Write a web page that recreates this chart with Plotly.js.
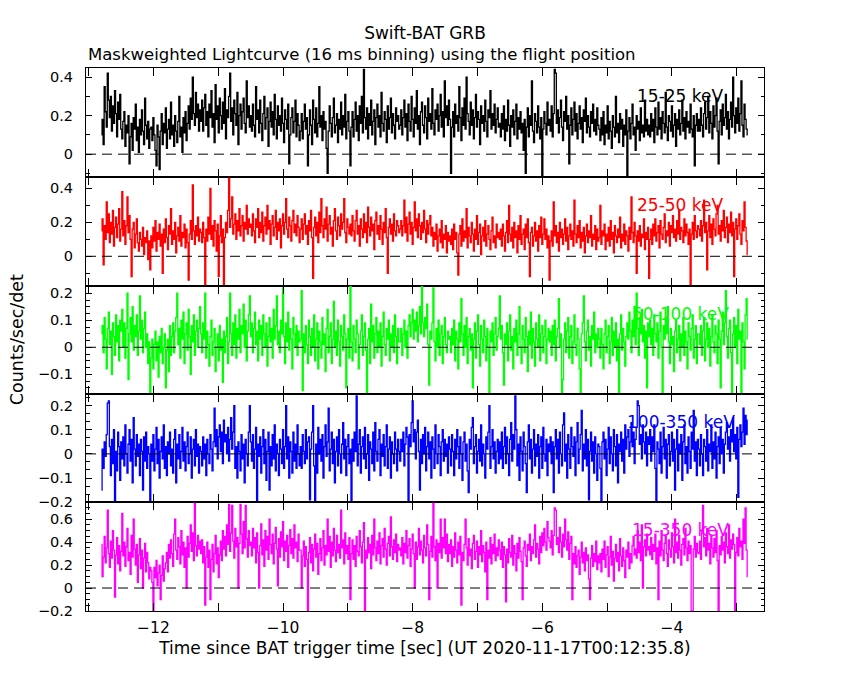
<!DOCTYPE html>
<html>
<head>
<meta charset="utf-8">
<script src="https://cdn.plot.ly/plotly-3.0.1.min.js"></script>
<style>html,body{margin:0;padding:0;background:#fff;}#chart{width:850px;height:680px;}</style>
</head>
<body>
<div id="chart"></div>
<script>
// Swift-BAT mask-weighted light curve, 16 ms bins (counts/sec/det)
const binStart = -12.8;   // first bin time [s]
const binWidth = 0.016;   // 16 ms binning

const bandLabels = ["15-25 keV", "25-50 keV", "50-100 keV", "100-350 keV", "15-350 keV"];
const bandColors = ["#000000", "#ff0000", "#00ff00", "#0000ff", "#ff00ff"];

const rate15_25 = [
.10,.18,.05,.35,.22,.14,.42,.28,.19,.30,.12,.25,.16,.33,.21,.09,.27,.18,.31,.13,
.08,.17,.22,.04,.15,.11,.20,-.05,.09,.16,.02,.19,.13,.26,.07,.14,.01,.18,.10,.23,.12,.05,.29,.15,.08,.17,.03,.13,
.14,.07,.19,.10,.02,-.06,.15,.09,-.08,.12,.21,.05,.16,.11,.24,.03,.13,.18,.08,.27,
.10,.15,.04,.20,.12,.06,.17,.30,.09,.14,.01,.19,.11,.22,.07,.16,.25,.13,.29,.18,
.40,.21,.15,.32,.19,.26,.12,.23,
.17,.28,.12,.24,.31,.15,.22,.09,.26,.19,.33,.14,.21,.06,.36,.18,.25,.11,.29,.20,
.13,.27,.16,.34,.08,.23,.19,.30,.42,.17,.24,.10,.28,.21,.15,.32,.05,.20,.26,.13,
.22,.29,.16,.11,.38,.19,.25,.14,
.20,.12,.26,.15,.09,.35,.18,.23,.11,.28,.16,.07,.21,.30,.13,.19,.24,.04,.17,.27,
.14,.22,.10,.31,.18,.08,.25,.15,.20,.12,.29,.16,.06,.23,.18,.13,.26,-.05,.10,.19,
.24,.11,.17,.28,.09,.21,.15,.07,
.12,.21,.08,.17,.26,.13,.19,-.06,.10,.23,.15,.05,.28,.18,.11,.24,.09,.16,.35,.14,
.20,.07,.22,.13,.17,.03,-.10,.12,.25,.16,.09,.19,.29,.11,.15,.21,.06,.18,.13,.27,
.10,.20,.14,.31,.08,.17,.22,.12,
-.06,.14,.22,.09,.18,.27,.12,.20,.07,.25,.16,.30,.11,.44,.19,.13,.24,.08,.21,.15,
.28,.10,.17,.23,.05,.19,.26,.14,.20,.09,.32,.16,.12,.22,.18,.06,.25,.13,.19,.29,
.11,.21,.15,.08,.24,.17,.20,.13,
.15,.23,.10,.19,.28,.14,.21,.07,.26,.17,.12,.30,.18,.09,.24,.16,.33,.13,.20,.05,
.22,.27,.15,.11,.25,.19,.08,.29,.17,.21,.13,.34,.16,.10,.23,.18,.26,.12,.20,.31,
.14,.22,.09,.38,.19,.25,.15,.28,
.18,-.10,.14,.22,.09,.26,.16,.20,.12,.35,.19,.07,.24,.15,.29,.13,.40,.21,.17,.10,
.27,.15,.23,.08,.19,.31,.14,.22,.18,.05,.25,.16,.20,.12,.28,.17,.09,.23,.19,.33,
.13,.21,.15,.26,.11,.18,.24,.14,
.16,.09,.21,.13,.25,.07,.18,.12,.28,.15,.04,.20,.14,.23,.10,.17,.26,.08,.19,.13,
.22,.11,.16,.02,.18,-.10,.14,.24,.09,.20,.15,.38,.12,.06,.21,.17,.11,.25,.14,.08,
.19,-.12,.13,.22,.16,.10,.27,.15,
.18,.12,.25,.09,.21,.44,.42,.16,.23,.11,.19,.28,.14,.07,.22,.17,.30,.13,.20,-.05,
.15,.24,.10,.18,.27,.12,.21,.08,.16,.25,.13,.19,.06,.23,.17,.29,.11,.20,.14,.09,
.22,.16,.26,.12,.18,.10,.24,.15,
.13,.07,.19,.10,.22,.05,.15,.11,.25,.08,.17,.12,.03,.20,.14,.09,.30,.11,.16,.06,
.21,.13,.18,.04,.15,.10,.23,-.12,.12,.19,.08,.16,.26,.10,.14,.02,.20,.13,.17,.07,
.24,.11,.15,.09,.28,.12,.18,.10,
.15,.09,.21,.12,.18,.06,.24,.14,.10,.27,.13,.19,.08,.22,.16,.11,.32,.14,.07,.20,
.17,.12,.25,.09,.15,.21,.04,.18,.13,.23,.10,.16,.28,.12,.19,.08,.22,.14,.17,.11,
.26,.13,.09,.20,-.06,.15,.21,.12,
.18,.12,.24,.15,.09,.21,.27,.13,.19,.30,.11,.22,.16,.08,.25,.14,.20,.29,.12,-.05,
.17,.23,.10,.26,.15,.19,.31,.13,.22,.08,.18,.27,.14,.40,.20,.11,.24,.16,.29,.12,
.21,.38,.15,.09,.26,.18,.13,.10
];

const rate25_50 = [
.15,.22,-.05,.18,.10,.32,.14,.25,.08,.20,.13,.27,.06,.17,.23,.11,.19,.28,.09,.16,
.38,.12,.21,.07,.18,.35,.14,.24,.10,-.12,.16,.20,.05,.13,.22,.08,.03,.14,.10,.06,
.17,.01,.11,.08,.15,-.02,.09,-.08,
.12,.05,.17,.09,.21,.03,.14,.10,.19,.06,.13,-.10,.16,.08,.22,.11,.04,.18,.13,.28,
.07,.15,.10,.20,.02,.12,.17,.09,.24,.06,.14,.11,.19,.05,.16,.08,-.14,.13,.21,.10,
.42,.15,.07,.18,.12,.23,.09,.16,
.14,.08,.20,.11,-.17,.16,.09,.23,.13,.40,.10,.18,.06,.21,.15,.03,.19,-.12,.12,.24,
.08,.16,-.17,.11,.20,.14,.27,.46,.17,.22,.35,.13,.19,.25,.10,.21,.15,.28,.12,.18,
.24,.09,.20,.16,.30,.13,.22,.17,
.19,.12,.25,.15,.08,.22,.17,.28,.11,.20,.14,.26,.09,.18,.23,.13,.30,.16,.21,.07,
.19,.24,.12,.17,.27,.10,.20,.15,.22,.05,.18,.25,.13,.20,.34,.16,.11,.23,.18,.09,
.21,.27,.14,.19,.12,.24,.17,.08,
.16,.22,.10,.19,.25,.13,.18,.07,.21,.15,.27,.11,-.13,.17,.23,.12,.20,.08,.26,.14,
.34,.18,.11,.22,.16,.29,.09,.19,.24,.13,.17,.06,.21,.28,.15,.10,.23,.18,.12,.25,
.16,.20,.34,.14,.08,.22,.17,.13,
.19,.12,.24,.15,.09,.21,.27,.13,.18,.06,.22,.16,.11,.25,.14,.20,.08,.29,.17,.12,
.23,.15,.19,.04,.21,.26,.13,.18,.10,.24,.16,.07,.20,.14,.28,.11,-.10,.17,.22,.13,
.19,.09,.25,.15,.12,.21,.18,.14,
.16,.21,.12,.18,.33,.14,.23,.09,.19,.26,.13,.20,.07,.17,.32,.15,.22,.11,.25,.18,
.10,.20,.14,.27,.16,.08,.21,.13,.19,.24,.12,.17,.06,.14,.10,.19,.03,.12,.16,.08,
.21,.05,.13,.10,.18,.02,.14,.09,
.12,.07,.16,.04,.19,.10,.14,.02,-.11,.13,.18,.06,.22,.09,.15,.11,.28,.05,.17,.12,
.08,.20,.13,.03,.16,.10,.24,.07,.14,.19,.01,.12,.17,.09,.21,.06,.13,.18,.10,.04,
.15,.23,.08,.12,.05,.19,.11,.14,
.10,.16,.06,.19,.12,.03,.14,.21,.08,.30,.13,.09,.17,.05,.20,.11,.15,.02,.18,.10,
.24,.07,.13,.16,.04,.19,.11,.22,.08,-.12,.14,.17,.06,.12,.20,.09,.15,.03,.18,.11,
.23,.07,.13,.22,.10,.16,.05,.12,
-.14,.09,.15,.06,.32,.12,.18,.08,.14,.03,.20,.11,.16,.07,.13,.22,.09,.17,.04,.12,
.19,.10,.15,.06,.33,.13,.08,.18,.11,.21,.05,.14,.09,.17,.02,.12,.19,.08,.15,.11,
.24,.06,.13,.10,.18,.04,.16,.09,
.11,.30,.07,.15,.12,.19,.04,.13,.09,.17,.06,.21,.10,.14,.02,.18,.12,.08,.16,.11,
.23,.05,.13,.09,.19,.07,.15,.12,.03,.17,.10,.35,.14,.08,.20,.12,-.10,.15,.09,.18,
.06,.13,.11,.22,.04,.14,.10,.17,
-.13,.10,.16,.07,.19,.12,.22,.09,.14,.18,.05,.21,.13,.10,.17,.25,.08,.15,.12,.20,
.06,.18,.14,.24,.11,.16,.09,.21,.13,.27,.10,.17,.15,.08,.22,.12,.19,.14,.07,.16,
-.17,.13,.20,.10,.24,.15,.11,.18,
.16,.12,.21,.09,.18,.33,.14,.20,-.08,.15,.24,.11,.19,.07,.22,.16,.12,.25,.30,.13,
.18,.09,.21,.15,.27,.11,.17,.23,.08,.19,.14,.26,.12,.20,-.12,.16,.22,.10,.18,.25,
.13,.07,.21,.15,.32,.17,.09,.01
];

const rate50_100 = [
.05,.08,-.02,.11,.03,-.08,.07,.13,.01,.06,-.10,.09,.04,-.03,.12,.02,.08,-.05,.10,.06,
.14,.00,.09,-.04,.07,.20,-.12,.05,.11,.02,.15,-.01,.08,.04,.12,-.03,.06,.19,.03,.10,
-.02,.07,.13,.00,.05,-.06,.02,-.17,
-.04,.03,-.08,.01,.06,-.05,.02,-.11,.04,-.02,.07,-.06,.00,.05,-.15,-.01,.03,-.09,.08,-.03,
.04,.09,-.02,.06,.11,.20,.01,.07,-.04,.10,.03,.13,-.06,.05,.09,-.01,.14,.04,-.10,.08,
.02,.12,-.03,.06,.10,.00,.07,.15,
.05,-.02,.09,.03,.20,-.04,.06,.01,-.07,.04,.10,-.03,.02,.07,-.09,.00,.05,-.05,.08,-.01,
.03,-.13,.06,-.02,.04,.11,-.06,.02,.20,.05,-.03,.09,.01,.12,-.04,.07,.03,.14,-.02,.08,
.05,.16,.00,.10,-.05,.06,.12,.19,
.04,.09,-.02,.07,.13,.01,.06,-.05,.10,.03,.08,-.03,.12,.05,.00,.09,-.07,.04,.11,.02,
.07,-.04,.14,.03,.08,.19,.01,.06,-.02,.10,.05,.22,.04,-.06,.09,.02,.13,-.01,.07,.03,
-.08,.11,.05,.00,.08,-.03,.06,.02,
.03,.21,-.16,.05,-.02,.08,.01,-.06,.10,.04,-.03,.07,.00,.12,-.05,.03,.09,-.08,.06,.02,
-.04,.11,.01,.05,-.09,.07,.14,-.02,.04,.09,-.06,.03,.17,.00,.06,-.03,.10,.02,-.07,.08,
.04,-.01,.12,.05,-.15,.03,.07,-.04,
.23,.02,-.05,.08,.03,-.02,.10,.05,-.08,.01,.06,.12,-.03,.04,.09,-.01,-.17,.03,.07,-.06,
.16,.02,.08,-.04,.05,.11,-.02,.06,.00,.09,-.07,.04,.13,.01,-.03,.07,.03,.10,-.05,.05,
.00,.08,-.02,.12,.04,-.06,.07,.02,
.02,.07,-.03,.05,.10,.00,.06,-.04,.08,.12,.04,.09,.14,.03,.10,.06,.13,.02,.08,.15,
.05,.23,.09,.04,.11,.07,.16,.01,-.14,.06,.03,.09,.22,.02,-.05,.07,.00,.10,-.03,.05,
.08,-.06,.04,.11,.01,-.02,.06,.03,
.04,-.02,.07,.01,.10,-.05,.06,.03,-.08,.09,.02,.18,.05,-.03,.08,.00,.11,-.06,.04,.07,
-.01,.05,-.15,.03,.09,-.04,.06,.12,.01,-.07,.08,.03,-.02,.10,.04,-.05,.07,.00,-.17,.06,
.02,.09,-.03,.05,.11,-.01,.04,.07,
.19,.03,.08,-.02,-.14,.05,.01,.09,-.05,.06,.12,-.01,.04,-.08,.07,.02,.10,-.03,.05,.15,
.00,-.06,.08,.03,-.02,.11,.04,-.09,.06,.01,.13,-.04,.07,.02,-.07,.09,.03,.00,.12,-.05,
.05,.08,-.02,.04,.10,-.06,.03,.07,
.02,.06,-.03,.08,.01,.10,-.05,.04,.07,.18,.00,.05,-.17,-.12,.03,.09,-.02,.06,.11,-.04,
.04,.08,-.06,.02,.12,.01,-.03,.07,.03,-.08,-.17,.05,.09,.19,.02,-.05,.06,.10,-.01,.04,
-.07,.08,.03,.13,-.02,.05,.00,.07,
.03,-.04,.07,.01,-.08,.05,.10,-.02,.04,.08,-.06,.02,.11,-.03,.06,.00,.09,-.05,.03,-.17,
.05,.12,-.01,.07,.02,-.07,.04,.09,.03,.13,.06,-.02,.10,.04,.15,.01,.20,.07,-.03,.11,
.05,.14,.02,.08,-.04,.06,-.15,.09,
.04,.10,.01,.07,-.03,.12,.05,.02,.09,-.04,.06,.13,.00,-.17,.08,.03,.11,.05,.15,.02,
-.06,.07,.01,.04,-.09,.06,.10,-.02,.03,.08,-.05,.05,.00,.11,-.03,.06,.02,-.08,.09,.04,
-.01,.07,.12,-.04,.03,.08,-.06,.05,
.05,.01,.08,-.03,.06,.11,-.05,.03,.09,.00,.07,-.07,.04,.12,.02,-.02,.08,.05,-.06,.10,
.03,-.15,.06,.13,.01,.09,.21,.04,-.04,.07,.10,-.02,-.17,.05,.11,.00,.08,-.06,.14,.03,
.06,-.17,.09,.02,-.08,.12,.18,.03
];

const rate100_350 = [
-.15,.02,-.06,.05,-.01,.08,.21,.22,.03,-.09,.06,-.04,.10,-.20,.01,-.07,.09,.03,-.11,.05,
-.02,.07,-.05,.12,.00,-.08,.04,.10,-.03,.06,-.12,.15,.02,-.05,.08,-.01,.04,-.09,.06,.01,
-.15,.07,-.03,.09,-.06,.03,.00,-.20,
.04,-.03,.08,-.07,.02,.11,-.04,.06,-.10,.01,.07,-.02,.12,-.06,.03,-.09,.05,.00,.09,-.05,
.02,-.08,.06,.10,-.12,.04,-.02,.08,-.06,.01,.11,-.03,.05,-.07,.03,.09,-.04,.00,.07,-.10,
.02,.06,-.05,.10,-.01,.04,-.08,.03,
.01,-.05,.07,-.02,.04,-.09,.06,.00,-.04,.08,.02,-.07,.05,.19,.03,.10,-.02,.07,.12,.01,
.09,-.04,.14,.05,.08,.00,.11,-.03,.06,.15,.02,.09,.20,-.06,.03,-.10,.05,.01,-.07,.08,
-.02,.04,-.12,.06,.00,-.05,.09,.20,
.05,-.03,.08,-.06,.02,.11,-.20,.04,-.01,.07,-.08,.03,.10,-.04,.06,-.11,.01,.09,-.15,.03,
-.05,.08,-.02,.12,-.07,.04,.00,-.09,.06,.02,-.04,.10,-.06,.03,.20,-.02,.07,-.10,.05,.01,
-.08,.09,-.03,.04,-.06,.12,.00,-.05,
.03,-.06,.08,.01,-.04,.10,-.02,.05,.07,-.19,.02,.09,.20,-.05,-.20,.04,-.08,.11,.00,.06,
-.03,.08,-.10,.03,.12,-.01,.05,.19,-.07,.02,.09,-.04,.06,-.12,.01,.07,-.05,.10,.00,-.08,
.04,.13,-.02,.06,-.09,.03,.08,-.04,
.02,-.20,.06,-.03,.09,.01,.24,-.05,.04,.10,-.08,.03,.07,-.02,.11,-.06,.00,.08,-.11,.05,
.02,-.04,.09,-.07,.13,.01,-.03,.06,.10,-.09,.04,-.01,.08,-.05,.03,.12,-.06,.02,.07,-.10,
.05,.00,-.04,.09,.02,-.07,.06,.01,
-.03,.06,.01,.09,-.05,.04,.11,.07,-.20,.08,.03,.13,.22,.05,.10,-.02,.09,.14,.01,-.15,
.06,-.04,.08,.00,.11,-.07,.03,.09,-.02,.05,-.10,.07,.02,-.06,.12,.00,-.04,.08,.03,-.09,
.05,.10,-.03,.06,-.01,.04,-.08,.07,
.02,-.05,.08,.01,-.09,.06,-.02,.10,.03,-.06,.07,.00,-.11,.05,.09,-.03,.04,-.07,-.16,.06,
.02,.11,.15,-.04,.03,.08,-.08,.01,.06,-.03,.12,-.05,.04,.00,-.10,.07,.02,.09,.20,-.06,
.03,.10,-.02,.05,-.08,.01,.06,-.04,
.05,-.02,.09,-.06,.03,.11,-.04,.07,.00,-.09,.06,.13,-.03,.08,.02,.24,.10,-.05,.04,-.11,
.07,.01,-.07,.09,.03,-.04,-.16,.05,.12,-.02,.06,-.08,.02,.10,-.05,.04,-.01,.08,-.10,.03,
.07,-.06,.11,.00,-.03,.06,-.09,.04,
.01,.07,-.04,.05,-.16,.03,.10,-.02,.06,-.08,.09,.00,-.05,.12,.17,-.03,.04,-.10,.08,.02,
-.06,.11,.03,-.01,.07,-.09,.05,.13,-.04,.02,.08,.18,-.07,.04,-.02,.10,-.05,.06,-.19,.01,
.09,-.03,.05,-.08,.07,.00,-.11,.04,
.03,-.06,-.20,.05,.09,-.02,.06,-.09,.02,.11,-.04,.07,.00,-.07,.10,.03,-.05,.08,-.12,.04,
.01,.09,-.03,.06,-.08,.12,.02,.07,.10,-.01,.05,.13,.03,.09,-.04,.06,.11,.22,.20,.04,
.08,-.02,.12,.05,.00,.09,-.05,.07,
.04,.10,-.03,.07,.01,.12,-.06,-.20,.05,.02,-.04,.09,-.08,.03,.11,-.02,.06,-.10,.04,.08,
-.05,.01,.09,-.03,.06,-.15,.02,.10,-.07,.04,.00,.08,-.11,.05,.12,-.04,.03,-.08,.07,.01,
-.06,.09,.02,.18,-.03,.05,-.09,.06,
.02,-.05,.08,.00,-.09,.06,.03,-.03,.10,-.07,.04,.01,.12,-.06,.05,-.02,.09,-.10,.03,.07,
-.04,.11,.00,.06,-.08,.04,.09,.13,.02,.07,-.03,.10,.05,.15,.01,.08,-.02,.11,-.18,.06,
.12,.03,.09,.19,.04,.16,.08,.14
];

const rate15_350 = [
.38,.10,.27,.45,.22,.35,.68,.30,.18,.41,.26,.50,.33,-.08,.29,.44,.21,.37,.15,.32,
.65,.28,.40,.19,.36,.52,.24,.31,.12,.46,.27,.60,.34,.20,.38,.05,.29,.43,.17,.33,
.00,.26,.39,.14,.31,.22,.08,.18,
.15,.05,-.20,.18,.09,.24,.02,.13,.20,-.10,.11,.28,.06,.17,.22,.31,.14,.38,.26,.42,
.30,.19,.47,.60,.33,.25,.44,.36,.21,.50,.29,.40,.18,.35,.00,.45,.27,.39,.55,.32,
.48,.24,.74,.37,.28,.46,.34,.41,
.30,.42,.22,.36,-.15,.27,.40,.18,.33,-.10,.25,.38,.14,.30,.46,.21,.35,.09,.29,.41,
.24,.50,.34,.45,.28,.55,.38,.73,.32,.48,.72,.41,.26,.52,.36,.44,.00,.39,.73,.47,
.30,.58,.35,.72,.43,.27,.50,.37,
.40,.28,.52,.35,.44,.22,.48,.31,.00,.37,.56,.29,.42,.19,.50,.33,.45,.25,.60,.38,
.30,.47,.21,.39,.53,.34,.02,.43,.27,.49,.36,.58,.24,.41,.32,.46,.18,.37,.51,.30,
.43,.26,.55,.35,.40,.23,.47,.33,
.33,.00,.28,.41,.19,.36,.25,-.20,.31,.44,.22,.38,.15,.34,.47,.27,.39,.12,.30,.43,
.24,.35,.50,.20,.37,.29,.60,.32,.45,.18,.40,.28,.52,.33,.23,.46,.31,.38,.26,.68,
.35,.42,.21,.48,.30,.37,.25,.44,
-.10,.30,.42,.25,.37,.19,.45,.32,.28,.50,.36,.22,.40,.57,-.20,.33,.26,.44,.31,.38,
.17,.46,.29,.60,.35,.24,.41,.30,.48,.21,.37,.43,.27,.52,.34,.20,.39,.45,.28,.62,
.36,.25,.42,.31,.47,.23,.38,.33,
.35,.28,.44,.21,.39,.31,.50,.26,.37,.43,.19,.34,.47,.30,.00,.40,.25,.36,.52,.29,
.41,.33,.22,.46,.35,.28,.55,.38,-.10,.32,.45,.27,.74,.36,.24,.42,.00,.39,.31,.60,
.26,.44,.35,.60,.30,.47,.23,.38,
.30,.42,.19,.36,.27,.48,.33,.22,.40,.29,.45,-.15,.31,.24,.38,.60,.35,.20,.43,.28,
.34,.17,.39,.46,.25,.32,.41,.18,.36,.29,.50,.23,.37,.31,.14,.40,-.10,.33,.26,.44,
.21,.38,.30,.47,.24,.35,.28,.42,
.33,.25,.40,.18,.36,.29,-.12,.34,.22,.43,.31,.27,.46,.20,.37,.30,.15,.39,.26,.44,
.32,.23,-.10,.35,.41,.28,.19,.38,.33,.47,.24,.36,.30,.42,.55,.27,.39,.34,.21,.45,
.31,.48,.37,.52,.40,.33,.58,.44,
.41,.35,.50,.29,.46,.70,.68,.38,.44,.31,.53,.40,.27,.47,.36,.60,.42,.33,.49,.25,
.39,.45,-.10,.30,.21,.36,.18,.28,.33,.12,.27,.40,.22,.31,.15,.35,.24,.29,.08,-.10,
.26,.37,.19,.30,.23,.41,.16,.28,
.22,.30,.14,.34,.25,.41,.18,.29,.36,.10,.27,.45,.20,.32,.06,.26,.38,.23,.31,.15,
.43,.28,.19,.35,.24,.09,.33,.27,.40,.17,.30,.22,.37,.45,.29,.34,.26,.50,.31,.40,
.24,.55,.00,.36,.42,.28,.47,.33,
.36,.29,.44,.25,.38,.32,.47,.21,.35,-.10,.41,.28,.50,.33,.24,.39,.45,.30,.19,.42,
.34,.27,.48,.36,.22,.60,.31,.40,.26,.46,.33,.20,.38,.43,.29,.52,.35,.24,.41,.30,
.37,-.20,-.20,.34,.45,.27,.39,.31,
.30,.41,.25,.48,.72,.36,.44,.28,.52,.33,.39,.21,.46,.35,.27,.43,.31,.50,.24,-.20,
.37,.29,.45,.33,.40,.22,.48,.36,.30,.55,.26,.42,.34,.47,.38,-.20,.31,.44,.28,.52,
.36,.41,.25,.60,.39,.70,.33,.10
];

const bandRates = [rate15_25, rate25_50, rate50_100, rate100_350, rate15_350];

// axis settings per panel (top to bottom)
const yRanges  = [[-0.12, 0.447], [-0.173, 0.465], [-0.174, 0.228], [-0.2005, 0.247], [-0.2005, 0.748]];
const yDticks  = [0.2, 0.2, 0.1, 0.1, 0.2];
const yMinor   = [0.1, 0.1, 0.025, 0.1/3, 0.05];
const yDomains = [[0.7987, 1], [0.5991, 0.7987], [0.3991, 0.5991], [0.2002, 0.3991], [0, 0.2002]];
const xRange = [-13.04, -2.58];

const FONT = "DejaVu Sans, Liberation Sans, sans-serif";
const traces = [];
const shapes = [];
const annotations = [];
const layout = {
  width: 850, height: 680,
  margin: {l: 86, r: 86, t: 68, b: 69},
  paper_bgcolor: "#ffffff", plot_bgcolor: "#ffffff",
  showlegend: false,
  font: {family: FONT, size: 15, color: "#000"},
  title: {text: "Swift-BAT GRB", x: 0.5, xref: "paper", xanchor: "center",
          y: 1 - 33/680, yref: "container", yanchor: "middle",
          font: {family: FONT, size: 17, color: "#000"}}
};

bandRates.forEach((rates, k) => {
  const n = k + 1;
  const time = rates.map((_, i) => binStart + i * binWidth);
  traces.push({
    x: time, y: rates, type: "scatter", mode: "lines",
    xaxis: "x" + n, yaxis: "y" + n,
    line: {shape: "hvh", color: bandColors[k], width: 1.3},
    hoverinfo: "skip"
  });
  const isBottom = (n === 5);
  layout["xaxis" + n] = {
    domain: [0, 1], anchor: "y" + n, range: xRange,
    matches: n === 1 ? undefined : "x",
    showgrid: false, zeroline: false,
    showline: true, linecolor: "#000", linewidth: 1, mirror: "ticks",
    ticks: "inside", ticklen: 8, tickwidth: 1, tickcolor: "#000",
    tick0: 0, dtick: 2,
    minor: {dtick: 1, tick0: 0, ticks: "inside", ticklen: 8, tickwidth: 1, tickcolor: "#000", showgrid: false},
    showticklabels: isBottom,
    ticklabelstandoff: 2,
    tickfont: {family: FONT, size: 15.5, color: "#000"},
    title: isBottom ? {text: "Time since BAT trigger time [sec] (UT 2020-11-17T00:12:35.8)",
                       font: {family: FONT, size: 17, color: "#000"}, standoff: 6} : {text: ""}
  };
  layout["yaxis" + n] = {
    domain: yDomains[k], anchor: "x" + n, range: yRanges[k],
    showgrid: false, zeroline: false,
    showline: true, linecolor: "#000", linewidth: 1, mirror: "ticks",
    ticks: "inside", ticklen: 6, tickwidth: 1, tickcolor: "#000",
    tick0: 0, dtick: yDticks[k],
    minor: {dtick: yMinor[k], tick0: 0, ticks: "inside", ticklen: 3.5, tickwidth: 1, tickcolor: "#000", showgrid: false},
    ticklabelstandoff: 9,
    tickfont: {family: FONT, size: 14.5, color: "#000"}
  };
  shapes.push({
    type: "line", xref: "paper", yref: "y" + n, x0: 0, x1: 1, y0: 0, y1: 0,
    layer: "above", line: {color: "#000", width: 1, dash: "10px,6px"}
  });
  annotations.push({
    text: bandLabels[k], xref: "paper", yref: "y" + n + " domain",
    x: 0.877, y: 0.742, xanchor: "center", yanchor: "middle", showarrow: false,
    font: {family: FONT, size: 17, color: bandColors[k]}
  });
});

annotations.push({
  text: "Maskweighted Lightcurve (16 ms binning) using the flight position",
  xref: "paper", yref: "paper", x: 0, y: (611 - 54) / 543, xanchor: "left", yanchor: "middle",
  showarrow: false, font: {family: FONT, size: 16.5, color: "#000"}
});
annotations.push({
  text: "Counts/sec/det", xref: "paper", yref: "paper", x: (16.7 - 86) / 678, y: 0.5,
  xanchor: "center", yanchor: "middle", textangle: -90, showarrow: false,
  font: {family: FONT, size: 17.5, color: "#000"}
});

layout.shapes = shapes;
layout.annotations = annotations;

Plotly.newPlot("chart", traces, layout, {displayModeBar: false, staticPlot: true});
</script>
</body>
</html>
